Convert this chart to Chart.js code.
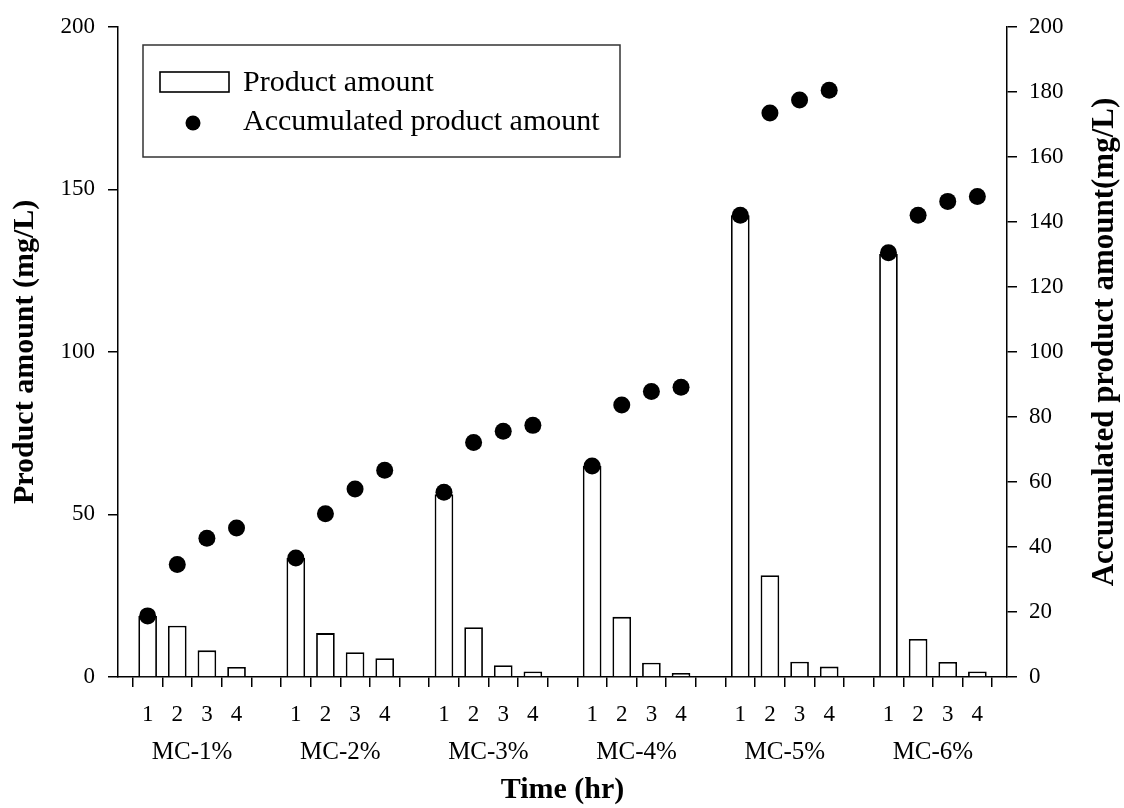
<!DOCTYPE html>
<html lang="en">
<head>
    <meta charset="UTF-8">
    <title>Product amount vs time</title>
    <script src="https://cdn.jsdelivr.net/npm/chart.js"></script>
    <style>
      body {
          margin: 0;
          padding: 0;
          background: #ffffff;
      }
      .wrap {
          width: 1124px;
          height: 808px;
      }
    </style>
</head>
<body>
    <div class="wrap">
        <canvas id="productChart" width="1124" height="808"></canvas>
    </div>
    <script>
    // groups and time points (x axis)
    const groups = ["MC-1%", "MC-2%", "MC-3%", "MC-4%", "MC-5%", "MC-6%"];
    const times = ["1", "2", "3", "4"];

    // product amount per time point (mg/L), one row per group
    const productAmount = [
        [18.8, 15.8, 8.2, 3.1],
        [36.6, 13.5, 7.6, 5.8],
        [56.2, 15.3, 3.6, 1.7],
        [64.9, 18.5, 4.4, 1.2],
        [142.0, 31.3, 4.7, 3.2],
        [130.1, 11.7, 4.6, 1.7]
    ];

    // accumulated product amount (mg/L), right axis
    const accumulatedAmount = [
        [18.8, 34.6, 42.7, 45.8],
        [36.6, 50.2, 57.8, 63.6],
        [56.8, 72.1, 75.6, 77.4],
        [64.9, 83.7, 87.8, 89.1],
        [142.0, 173.5, 177.5, 180.5],
        [130.5, 142.0, 146.3, 147.8]
    ];

    const leftTicks = { min: 0, max: 200, step: 50 };
    const rightTicks = { min: 0, max: 200, step: 20 };

    // build category slots: empty slot between groups and at both ends
    let labels = [""];
    let barData = [null];
    let dotData = [null];
    let groupCenters = [];
    groups.forEach(function (g, i) {
        groupCenters.push(labels.length + 1.5);
        times.forEach(function (t, j) {
            labels.push(t);
            barData.push(productAmount[i][j]);
            dotData.push(accumulatedAmount[i][j]);
        });
        labels.push("");
        barData.push(null);
        dotData.push(null);
    });

    const serif = "'Liberation Serif', 'Times New Roman', serif";

    const extras = {
        id: "extras",
        afterDraw(chart) {
            const ctx = chart.ctx;
            ctx.save();
            // legend box
            ctx.strokeStyle = "#333333";
            ctx.lineWidth = 1.5;
            ctx.strokeRect(143, 45, 477, 112);
            ctx.strokeStyle = "#000000";
            ctx.lineWidth = 1.6;
            ctx.strokeRect(160, 72, 69, 20);
            ctx.fillStyle = "#000000";
            ctx.beginPath();
            ctx.arc(193, 123, 7.5, 0, Math.PI * 2);
            ctx.fill();
            ctx.font = "30px " + serif;
            ctx.textAlign = "left";
            ctx.textBaseline = "middle";
            ctx.fillText("Product amount", 243, 83);
            ctx.fillText("Accumulated product amount", 243, 122);

            // right axis title, reads bottom to top
            ctx.translate(1105, 342);
            ctx.rotate(-Math.PI / 2);
            ctx.font = "bold 31px " + serif;
            ctx.textAlign = "center";
            ctx.fillText("Accumulated product amount(mg/L)", 0, 0);
            ctx.restore();
        }
    };

    const ctx = document.getElementById("productChart").getContext("2d");
    const productChart = new Chart(ctx, {
        data: {
            labels: labels,
            datasets: [{
                type: "line",
                label: "Accumulated product amount",
                data: dotData,
                yAxisID: "y1",
                showLine: false,
                pointRadius: 8.5,
                pointBackgroundColor: "#000000",
                pointBorderWidth: 0,
                order: 0
            }, {
                type: "bar",
                label: "Product amount",
                data: barData,
                yAxisID: "y",
                backgroundColor: "#ffffff",
                borderColor: "#000000",
                borderWidth: 1.8,
                categoryPercentage: 1,
                barPercentage: 0.63,
                order: 1
            }]
        },
        options: {
            responsive: false,
            animation: false,
            layout: { padding: { top: 22 } },
            plugins: {
                legend: { display: false },
                tooltip: { enabled: false }
            },
            scales: {
                x: {
                    type: "category",
                    offset: false,
                    weight: 0,
                    grid: { display: true, drawOnChartArea: false, drawTicks: true, tickLength: 10, color: "#000000", lineWidth: 1.5 },
                    border: { display: true, color: "#000000", width: 1.5 },
                    ticks: { autoSkip: false, maxRotation: 0, padding: 14, color: "#000000", font: { family: serif, size: 23 } },
                    afterFit(scale) { scale.height = 50; }
                },
                x2: {
                    type: "linear",
                    position: "bottom",
                    min: 0,
                    max: labels.length - 1,
                    weight: 1,
                    grid: { display: false },
                    border: { display: false },
                    afterBuildTicks(scale) {
                        scale.ticks = groupCenters.map(function (v) { return { value: v }; });
                    },
                    ticks: {
                        padding: 2,
                        color: "#000000",
                        font: { family: serif, size: 25 },
                        callback: function (v) { return groups[groupCenters.indexOf(v)]; }
                    },
                    title: {
                        display: true,
                        text: "Time (hr)",
                        color: "#000000",
                        padding: { top: 0, bottom: 0 },
                        font: { family: serif, size: 30, weight: "bold" }
                    },
                    afterFit(scale) { scale.height = 81; }
                },
                y: {
                    position: "left",
                    min: leftTicks.min,
                    max: leftTicks.max,
                    grid: { display: true, drawOnChartArea: false, tickLength: 10, color: "#000000", lineWidth: 1.5 },
                    border: { display: true, color: "#000000", width: 1.5 },
                    ticks: { stepSize: leftTicks.step, padding: 13, color: "#000000", font: { family: serif, size: 23 } },
                    title: {
                        display: true,
                        text: "Product amount (mg/L)",
                        color: "#000000",
                        padding: { top: 7, bottom: 0 },
                        font: { family: serif, size: 30, weight: "bold" }
                    },
                    afterFit(scale) { scale.width = 118; }
                },
                y1: {
                    position: "right",
                    min: rightTicks.min,
                    max: rightTicks.max,
                    grid: { display: true, drawOnChartArea: false, tickLength: 10, color: "#000000", lineWidth: 1.5 },
                    border: { display: true, color: "#000000", width: 1.5 },
                    ticks: { stepSize: rightTicks.step, padding: 12, color: "#000000", font: { family: serif, size: 23 } },
                    afterFit(scale) { scale.width = 117; }
                }
            }
        },
        plugins: [extras]
    });
    </script>
</body>
</html>
